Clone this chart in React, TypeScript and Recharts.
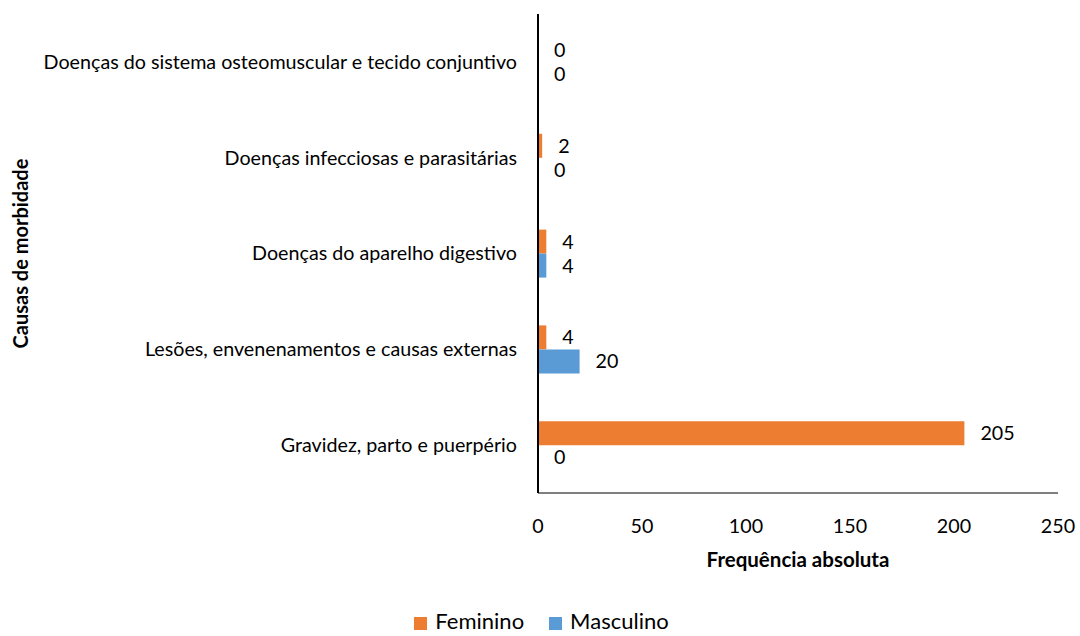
import { BarChart, Bar, XAxis, YAxis, Legend, LabelList, Label } from "recharts";

const causes = [
  "Doenças do sistema osteomuscular e tecido conjuntivo",
  "Doenças infecciosas e parasitárias",
  "Doenças do aparelho digestivo",
  "Lesões, envenenamentos e causas externas",
  "Gravidez, parto e puerpério",
];
const feminino = [0, 2, 4, 4, 205];
const masculino = [0, 0, 4, 20, 0];
const xTicks = [0, 50, 100, 150, 200, 250];

const data = causes.map((causa, i) => ({ causa, Feminino: feminino[i], Masculino: masculino[i] }));

const FONT = "Lato, 'Open Sans', sans-serif";
const FS = 19.7;

// keep zero-value bars in the layout so their "0" labels still show
const tinyForZero = (v: number) => (v === 0 ? 0.001 : 0);

export default function App() {
  return (
    <div style={{ position: "absolute", left: 0, top: 0, width: 1080, height: 636, background: "#fff" }}>
      <BarChart
        width={1080}
        height={636}
        data={data}
        layout="vertical"
        margin={{ top: 14, right: 22, bottom: 36, left: 0 }}
        barGap={0}
        barSize={24}
        style={{ fontFamily: FONT }}
      >
        <XAxis
          type="number"
          domain={[0, 250]}
          ticks={xTicks}
          tickLine={false}
          axisLine={{ stroke: "#7f7f7f", strokeWidth: 2 }}
          tick={{ fill: "#000", fontSize: FS }}
          tickMargin={20}
          height={80}
        >
          <Label value="Frequência absoluta" position="insideBottom" offset={6} style={{ fontWeight: "bold", fontSize: 20.5, fill: "#000" }} />
        </XAxis>
        <YAxis
          type="category"
          dataKey="causa"
          width={538}
          tickLine={false}
          axisLine={{ stroke: "#000", strokeWidth: 2 }}
          tick={{ fill: "#000", fontSize: FS }}
          tickMargin={15}
          interval={0}
        >
          <Label value="Causas de morbidade" angle={-90} position="insideLeft" offset={21} style={{ textAnchor: "middle", fontWeight: "bold", fontSize: 20, fill: "#000" }} />
        </YAxis>
        <Legend
          verticalAlign="bottom"
          align="center"
          iconType="square"
          iconSize={13}
          wrapperStyle={{ bottom: 2, left: 14, width: 1080, fontSize: 22, color: "#000" }}
          formatter={(v) => <span style={{ color: "#000", marginLeft: 4, marginRight: 15 }}>{v}</span>}
        />
        <Bar dataKey="Feminino" fill="#ED7D31" minPointSize={tinyForZero} isAnimationActive={false}>
          <LabelList dataKey="Feminino" position="right" offset={16} style={{ fill: "#000", fontSize: FS }} />
        </Bar>
        <Bar dataKey="Masculino" fill="#5B9BD5" minPointSize={tinyForZero} isAnimationActive={false}>
          <LabelList dataKey="Masculino" position="right" offset={16} style={{ fill: "#000", fontSize: FS }} />
        </Bar>
      </BarChart>
    </div>
  );
}
